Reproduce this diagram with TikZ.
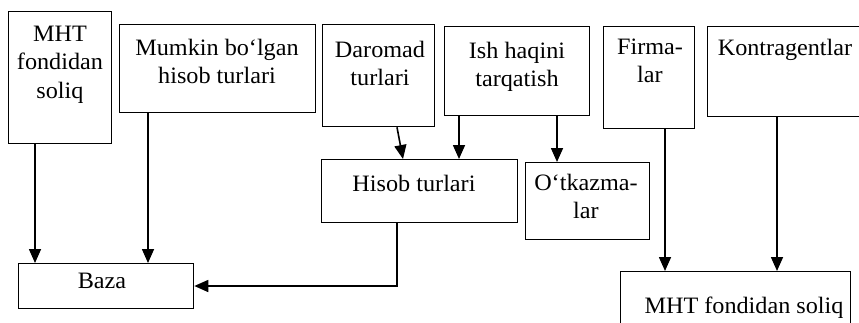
\documentclass[tikz,border=0pt]{standalone}
\usepackage{fontspec}
\setmainfont{Liberation Serif}[FakeStretch=1.03]
\usetikzlibrary{arrows.meta}
\begin{document}
\begin{tikzpicture}[x=1pt,y=-1pt,
  box/.style={draw, line width=1.3pt, anchor=north west, inner sep=0pt},
  lbl/.style={anchor=north, inner sep=0pt, align=center, font=\fontsize{23.5}{28.5}\selectfont},
  arr/.style={line width=1.6pt, -{Triangle[width=12pt,length=14pt]}}]
\useasboundingbox (0,0) rectangle (859,322);
\clip (0,0) rectangle (859,322);
\fill[white] (0,0) rectangle (859,322);
% boxes
\node[box, minimum width=103pt, minimum height=132pt] (b1) at (8,11) {};
\node[box, minimum width=196pt, minimum height=88pt] (b2) at (119,24) {};
\node[box, minimum width=112pt, minimum height=102pt] (b3) at (322,24) {};
\node[box, minimum width=145pt, minimum height=89pt] (b4) at (444,26) {};
\node[box, minimum width=91pt, minimum height=102pt] (b5) at (603,26) {};
\node[box, minimum width=170pt, minimum height=90pt] (b6) at (707,26) {};
\node[box, minimum width=196pt, minimum height=63pt] (hb) at (321,159) {};
\node[box, minimum width=124pt, minimum height=77pt] (ot) at (525,162) {};
\node[box, minimum width=175pt, minimum height=45pt] (bz) at (18,263) {};
\node[box, minimum width=230pt, minimum height=70pt] (mh) at (620,271) {};
% labels
\node[lbl] (t1) at (60,25.5) {MHT\\fondidan\\soliq};
\node[lbl] (t2) at (217,38.5) {Mumkin bo‘lgan\\hisob turlari};
\node[lbl] (t3) at (380,40.5) {Daromad\\turlari};
\node[lbl] (t4) at (517,41.5) {Ish haqini\\tarqatish};
\node[lbl] (t5) at (650,38.5) {Firma-\\lar};
\node[lbl] (t6) at (785,38.5) {Kontragentlar};
\node[lbl] (th) at (414,174.5) {Hisob turlari};
\node[lbl] (to) at (586,173.5) {O‘tkazma-\\lar};
\node[lbl] (tb) at (102,272.5) {Baza};
\node[lbl] (tm) at (744,296.5) {MHT fondidan soliq};
% connectors
\draw[arr] (b1.south west -| 35,0) -- (bz.north west -| 35,0);
\draw[arr] (b2.south west -| 148,0) -- (bz.north west -| 148,0);
\draw[arr] (b3.south west -| 397,0) -- (hb.north west -| 403,0);
\draw[arr] (b4.south west -| 459,0) -- (hb.north west -| 459,0);
\draw[arr] (b4.south west -| 557,0) -- (ot.north west -| 557,0);
\draw[arr] (b5.south west -| 665,0) -- (mh.north west -| 665,0);
\draw[arr] (b6.south west -| 777,0) -- (mh.north west -| 777,0);
\draw[arr] (hb.south west -| 397,0) -- (397,286) -- (bz.east |- 0,286);
\end{tikzpicture}
\end{document}
